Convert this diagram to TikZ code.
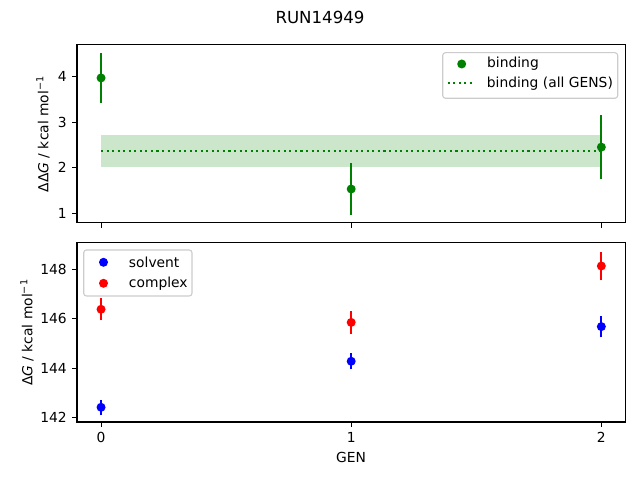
\documentclass[tikz,border=0pt]{standalone}
\usepackage{fontspec}
\setmainfont{DejaVu Sans}
\usetikzlibrary{positioning}
\definecolor{mplgreen}{rgb}{0,.5,0}
\definecolor{framegray}{rgb}{.8,.8,.8}

\begin{document}
\begin{tikzpicture}[x=0.01in,y=0.01in,% one unit = one pixel of the 640x480 figure
		every node/.style={
			font=\fontsize{10}{12}\selectfont,
			inner sep=0pt
		},
		spine/.style={line width=0.8pt},
		tick/.style={line width=0.8pt},
		errbar/.style={line width=1.5pt},
		marker/.style={circle,fill,minimum size=6.5pt,inner sep=0pt},
		allgens/.style={line width=1.5pt,dash pattern=on 1.5pt off 2.5pt},
		legendbox/.style={draw=framegray,fill=white,fill opacity=0.8,rounded corners=2pt,line width=0.8pt}
	]
	\useasboundingbox (0,0) rectangle (640,480);
	\node[font=\fontsize{12}{14}\selectfont] (title) at (320,463) {RUN14949};

	% upper panel: binding free energy
	\begin{scope}[x=2.5in,y=0.455in,shift={(1.01in,2.212in)}]
		\fill[mplgreen,opacity=0.2] (0,2.01) rectangle (2,2.71);
		\draw[allgens,mplgreen] (0,2.37) -- (2,2.37);
		\foreach \g/\v/\e in {0/3.97/0.54, 1/1.53/0.57, 2/2.45/0.70}{
			\draw[errbar,mplgreen] (\g,{\v-\e}) -- (\g,{\v+\e});
			\node[marker,mplgreen] (bind-\g) at (\g,\v) {};
		}
		\draw[spine] (-0.096,0.787) rectangle (2.096,4.699);
		\foreach \t in {1,2,3,4}
			\draw[tick] (-0.096,\t) -- ++(-3.5pt,0) node[left=3.5pt] (ytop-\t) {\t};
		\foreach \g in {0,1,2}
			\draw[tick] (\g,0.787) -- ++(0,-3.5pt);
	\end{scope}
	\node[rotate=90] (ylabtop) at (43,346) {ΔΔ\textit{G} / kcal mol\textsuperscript{−1}};
	% legend of the upper panel
	\draw[legendbox] (442.7,381.7) rectangle (617.7,427.3);
	\node[marker,mplgreen] (bind-leg) at (461.7,416) {};
	\node[right=14.75pt of bind-leg] (bind-txt) {binding};
	\coordinate (allgens-a) at (447.7,396.7);
	\coordinate (allgens-b) at (475,396.7);
	\draw[allgens,mplgreen] (allgens-a) -- (allgens-b);
	\node[right=8.4pt of allgens-b] (allgens-txt) {binding (all GENS)};

	% lower panel: solvent and complex legs
	\begin{scope}[x=2.5in,y=0.2473in,shift={(1.01in,-34.4936in)}]
		\foreach \g/\v/\e in {0/142.42/0.30, 1/144.28/0.33, 2/145.68/0.43}{
			\draw[errbar,blue] (\g,{\v-\e}) -- (\g,{\v+\e});
			\node[marker,blue] (solv-\g) at (\g,\v) {};
		}
		\foreach \g/\v/\e in {0/146.38/0.45, 1/145.85/0.46, 2/148.13/0.58}{
			\draw[errbar,red] (\g,{\v-\e}) -- (\g,{\v+\e});
			\node[marker,red] (cplx-\g) at (\g,\v) {};
		}
		\draw[spine] (-0.096,141.826) rectangle (2.096,149.064);
		\foreach \t in {142,144,146,148}
			\draw[tick] (-0.096,\t) -- ++(-3.5pt,0) node[left=3.5pt] (ybot-\t) {\t};
		\foreach \g in {0,1,2}
			\draw[tick] (\g,141.826) -- ++(0,-3.5pt) node[below=3.5pt] (xbot-\g) {\g};
	\end{scope}
	\node[rotate=90] (ylabbot) at (27,147.5) {Δ\textit{G} / kcal mol\textsuperscript{−1}};
	\node (xlab) at (351,23) {GEN};
	% legend of the lower panel
	\draw[legendbox] (83.7,184) rectangle (192,230);
	\node[marker,blue] (solv-leg) at (103.5,217.7) {};
	\node[right=14.75pt of solv-leg] (solv-txt) {solvent};
	\node[marker,red] (cplx-leg) at (103.5,196.7) {};
	\node[right=14.75pt of cplx-leg] (cplx-txt) {complex};
\end{tikzpicture}
\end{document}
